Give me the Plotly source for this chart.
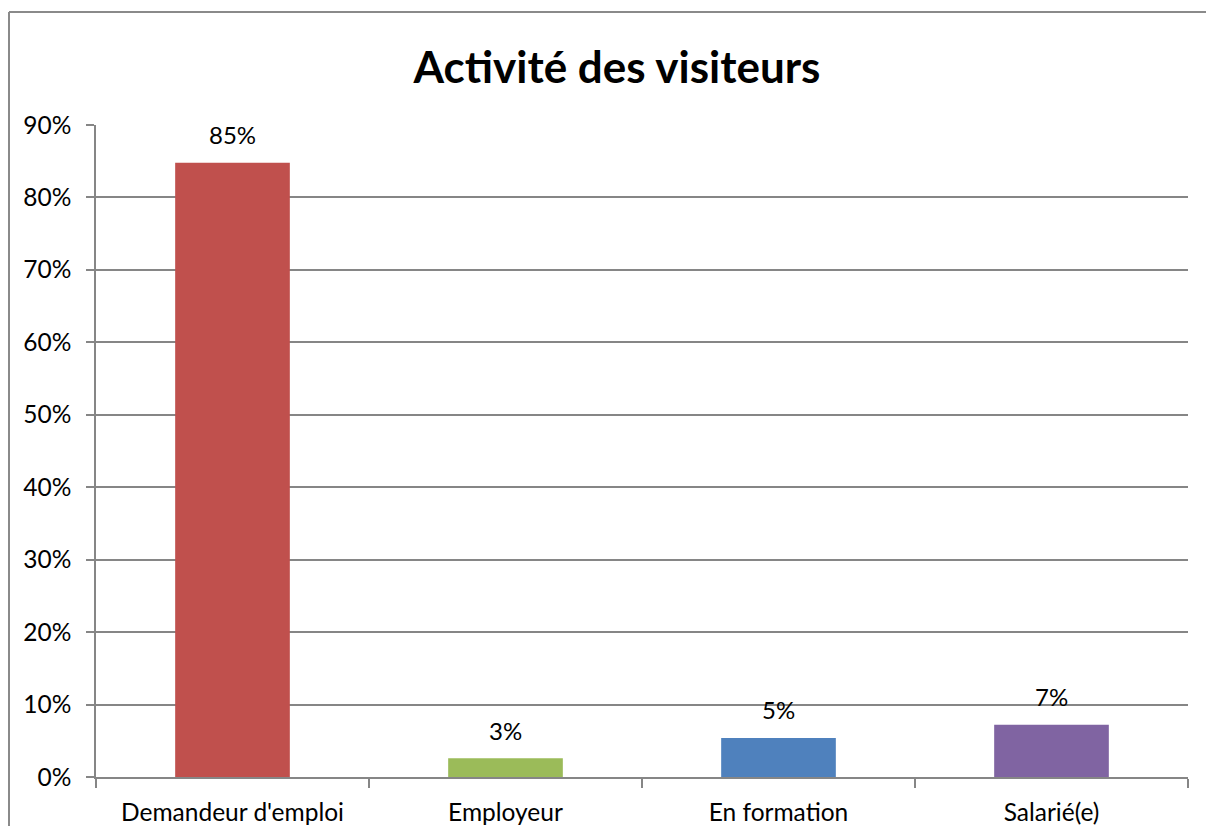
import plotly.graph_objects as go

categories = ["Demandeur d'emploi", "Employeur", "En formation", "Salarié(e)"]
values = [0.848, 0.026, 0.054, 0.072]
labels = ["85%", "3%", "5%", "7%"]
colors = ["#C0504D", "#9BBB59", "#4F81BD", "#8064A2"]
y_ticks = [0, 0.1, 0.2, 0.3, 0.4, 0.5, 0.6, 0.7, 0.8, 0.9]

FONT = "Lato"
W, H = 1198, 818          # page body has an 8px margin
L, R, T, B = 88, 18, 117, 49

fig = go.Figure()
fig.add_trace(go.Bar(
    x=categories, y=values, marker=dict(color=colors, line=dict(width=0)),
    width=0.42, hoverinfo="skip",
))

for c, v, t in zip(categories, values, labels):
    fig.add_annotation(x=c, y=v, text=t, showarrow=False, yanchor="middle",
                       yshift=28, font=dict(family=FONT, size=24, color="#000000"))

grid = "#868686"
pw, ph = W - L - R, H - T - B
fig.update_layout(
    width=W, height=H,
    margin=dict(l=L, r=R, t=T, b=B, autoexpand=False),
    paper_bgcolor="white", plot_bgcolor="white",
    showlegend=False,
    title=dict(text="<b>Activité des visiteurs</b>", x=609 / W, xanchor="center",
               y=1 - 60 / H, yanchor="middle",
               font=dict(family=FONT, size=44, color="#000000")),
    xaxis=dict(type="category", range=[-0.5, 3.5], showline=True, linecolor=grid,
               linewidth=1.5, ticks="outside", tickson="boundaries", ticklen=9,
               tickcolor=grid, tickwidth=1.5, showgrid=False, ticklabelstandoff=13,
               automargin=False,
               tickfont=dict(family=FONT, size=24.5, color="#000000")),
    yaxis=dict(range=[0, 0.9], tickvals=y_ticks, tickformat=".0%", showline=True,
               linecolor=grid, linewidth=1.5, ticks="outside", ticklen=8,
               tickcolor=grid, tickwidth=1.5, showgrid=True, gridcolor=grid,
               gridwidth=1.5, zeroline=False, ticklabelstandoff=10,
               automargin=False,
               tickfont=dict(family=FONT, size=24.5, color="#000000")),
)

# outer chart border: only its left and top edges fall inside the page
bx0 = (1 - L) / pw
by1 = (ph + T - 4) / ph
fig.add_shape(type="line", xref="paper", yref="paper",
              x0=bx0, x1=bx0, y0=-(B + 50) / ph, y1=by1,
              line=dict(color="#8A8A8A", width=2), layer="below")
fig.add_shape(type="line", xref="paper", yref="paper",
              x0=bx0, x1=(W + 50 - L) / pw, y0=by1, y1=by1,
              line=dict(color="#8A8A8A", width=2), layer="below")

fig.write_html("out.html")
